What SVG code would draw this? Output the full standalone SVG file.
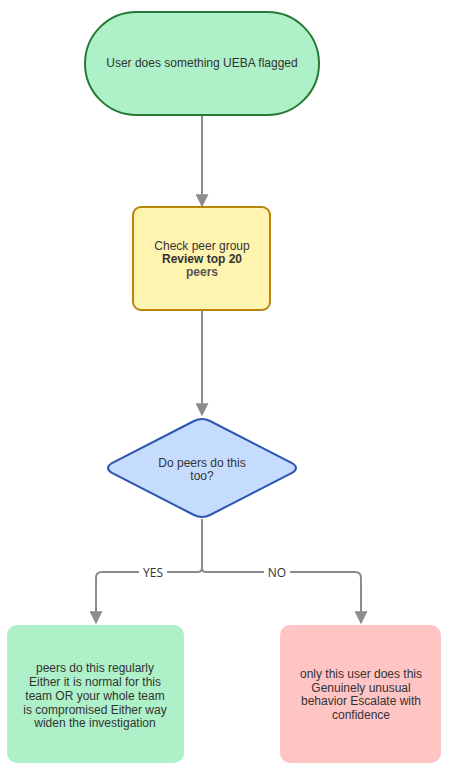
<svg xmlns="http://www.w3.org/2000/svg" width="449" height="770" viewBox="0 0 449 770">
<style>
text{font-family:"Liberation Sans",Arial,sans-serif;font-size:12px;fill:#333;text-anchor:middle}
.edge{fill:none;stroke:#8c8c8c;stroke-width:2}
.lbl{font-family:"Open Sans","DejaVu Sans",sans-serif;font-size:12px;fill:#333}
</style>
<defs>
<marker id="arr" viewBox="0 0 10 10" refX="9" refY="5" markerWidth="6.5" markerHeight="6.5" markerUnits="strokeWidth" orient="auto">
<path d="M0,0 L10,5 L0,10 z" fill="#8c8c8c"/>
</marker>
</defs>
<rect width="449" height="770" fill="#fff"/>
<g id="edges">
<path class="edge" d="M202,115 V206" marker-end="url(#arr)"/>
<path class="edge" d="M202,310 V415" marker-end="url(#arr)"/>
<path class="edge" d="M202,519 V568 Q202,572 198,572 H102 Q96,572 96,578 V623" marker-end="url(#arr)"/>
<path class="edge" d="M202,519 V568 Q202,572 206,572 H355 Q361,572 361,578 V623" marker-end="url(#arr)"/>
<rect x="139" y="565" width="28" height="15" fill="#fff"/>
<text class="lbl" x="153" y="577">YES</text>
<rect x="264" y="565" width="26" height="15" fill="#fff"/>
<text class="lbl" x="277" y="577">NO</text>
</g>
<g id="start">
<rect x="85" y="12" width="234" height="103" rx="51.5" fill="#aef0c8" stroke="#267a35" stroke-width="2"/>
<text x="202" y="67">User does something UEBA flagged</text>
</g>
<g id="check">
<rect x="133" y="207" width="137" height="103" rx="8" fill="#fff3b0" stroke="#b8860b" stroke-width="2"/>
<text x="202" y="250">Check peer group</text>
<text x="202" y="263" font-weight="bold">Review top 20</text>
<text x="202" y="276" font-weight="bold" style="fill:#555">peers</text>
</g>
<g id="decision">
<path d="M194,421 Q202,417 210,421 L292,463 Q300,468 292,473 L210,515 Q202,519 194,515 L112,473 Q104,468 112,463 Z" fill="#c6dcff" stroke="#2b55b0" stroke-width="2"/>
<text x="202" y="467">Do peers do this</text>
<text x="202" y="480">too?</text>
</g>
<g id="yes">
<rect x="7" y="625" width="177" height="138" rx="10" fill="#aef0c8"/>
<text x="95" y="672">peers do this regularly</text>
<text x="95" y="686">Either it is normal for this</text>
<text x="95" y="700">team OR your whole team</text>
<text x="95" y="714">is compromised Either way</text>
<text x="95" y="727">widen the investigation</text>
</g>
<g id="no">
<rect x="280" y="625" width="161" height="138" rx="10" fill="#ffc4c4"/>
<text x="361" y="678">only this user does this</text>
<text x="361" y="692">Genuinely unusual</text>
<text x="361" y="705">behavior Escalate with</text>
<text x="361" y="719">confidence</text>
</g>
</svg>
